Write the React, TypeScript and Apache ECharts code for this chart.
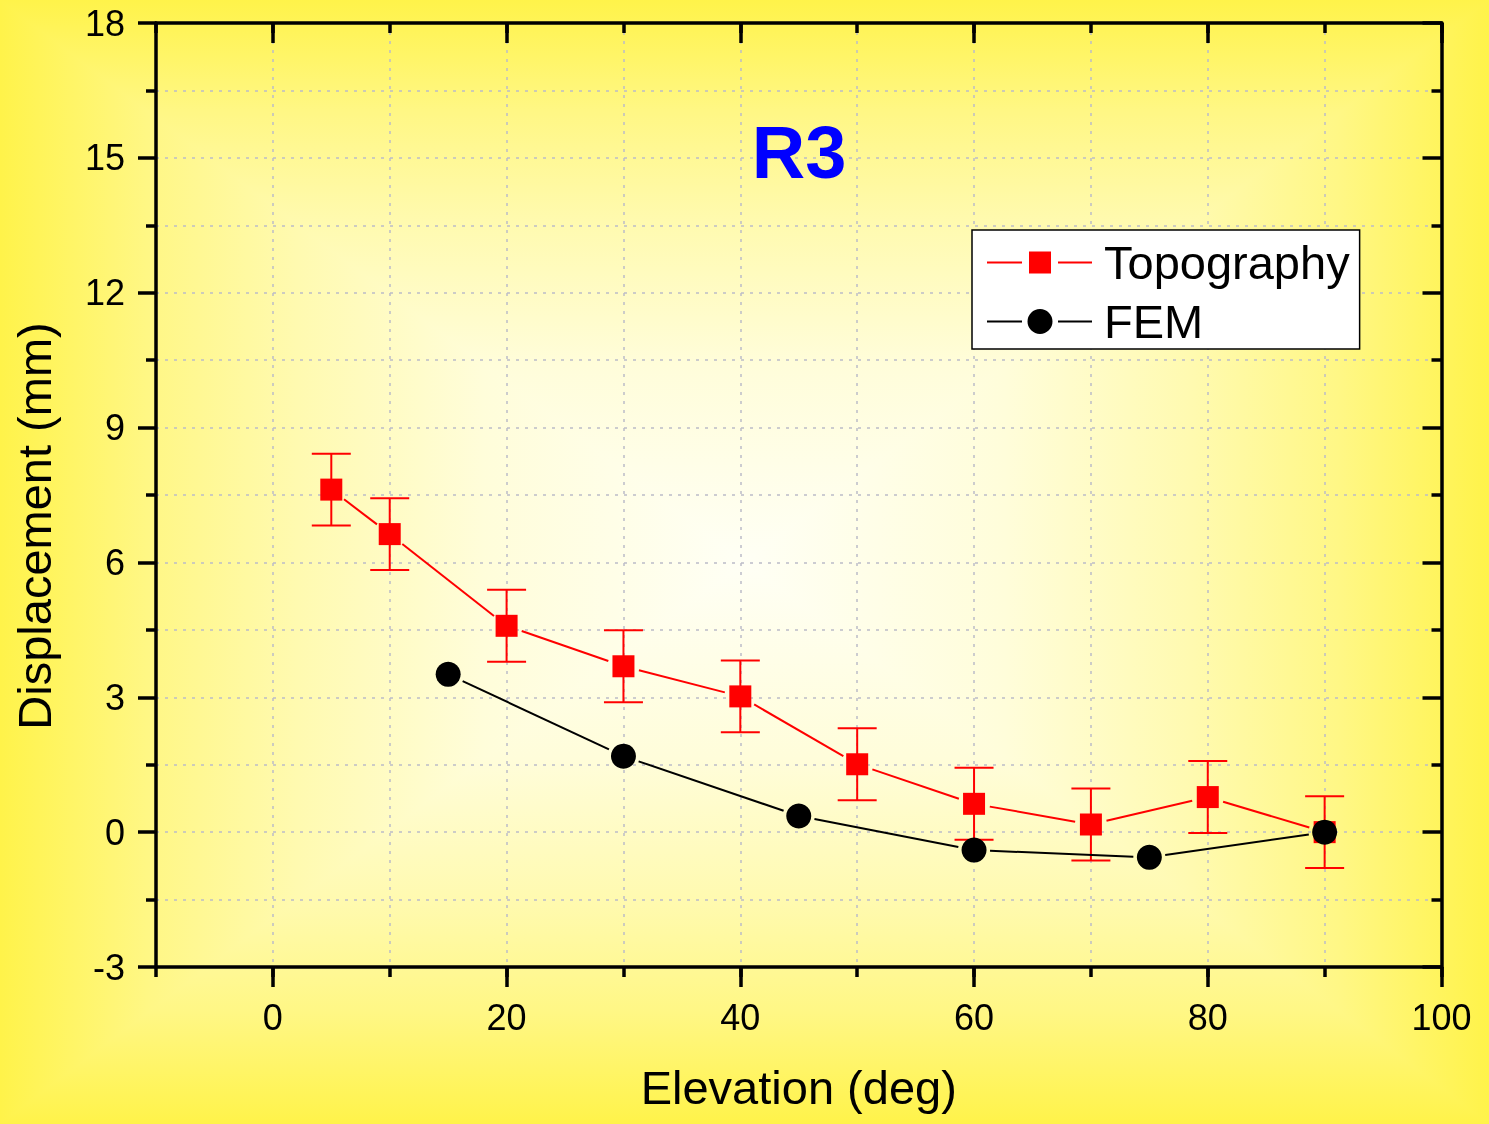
import React, { useEffect, useRef } from "react";
import * as echarts from "echarts";

// ---- data ----
const topoX = [5, 10, 20, 30, 40, 50, 60, 70, 80, 90];
const topoY = [7.62, 6.63, 4.59, 3.69, 3.02, 1.51, 0.63, 0.17, 0.78, 0.0];
const topoErr = [0.8, 0.8, 0.8, 0.8, 0.8, 0.8, 0.8, 0.8, 0.8, 0.8];
const femX = [15, 30, 45, 60, 75, 90];
const femY = [3.51, 1.69, 0.36, -0.4, -0.56, 0.0];
const xMajorTicks = [0, 20, 40, 60, 80, 100];
const seriesNames = ["Topography", "FEM"];
const titleText = "R3";
const xAxisName = "Elevation (deg)";
const yAxisName = "Displacement (mm)";

const FONT = "'Liberation Sans', Arial, sans-serif";
const RED = "#ff0000";
const BLACK = "#000000";
const GRID_COLOR = "#bcbcc8";

// legend icons: line – marker – line, with small gaps (Origin style)
const ICON_SQUARE = "path://M0 14H35V16H0Z M42 4H64V26H42Z M71 14H105V16H71Z";
const ICON_CIRCLE =
  "path://M0 14H35V16H0Z M40.5 15A12.5 12.5 0 1 0 65.5 15A12.5 12.5 0 1 0 40.5 15Z M71 14H105V16H71Z";

function pairs(xs: number[], ys: number[]) {
  return xs.map((x, i) => [x, ys[i]]);
}
function segments(xs: number[], ys: number[]) {
  const out: number[][] = [];
  for (let i = 0; i < xs.length - 1; i++) out.push([xs[i], ys[i], xs[i + 1], ys[i + 1]]);
  return out;
}

function segmentRenderer(color: string, gap: number) {
  return (params: any, api: any) => {
    const p1 = api.coord([api.value(0), api.value(1)]);
    const p2 = api.coord([api.value(2), api.value(3)]);
    const dx = p2[0] - p1[0];
    const dy = p2[1] - p1[1];
    const len = Math.hypot(dx, dy);
    if (len <= 2 * gap) return null;
    const ux = dx / len;
    const uy = dy / len;
    return {
      type: "line",
      silent: true,
      shape: { x1: p1[0] + ux * gap, y1: p1[1] + uy * gap, x2: p2[0] - ux * gap, y2: p2[1] - uy * gap },
      style: { stroke: color, lineWidth: 2 },
    };
  };
}

function errorBarRenderer(params: any, api: any) {
  const x = api.value(0);
  const pl = api.coord([x, api.value(1)]);
  const ph = api.coord([x, api.value(2)]);
  const hw = 19.5;
  const style = { stroke: RED, lineWidth: 2 };
  return {
    type: "group",
    silent: true,
    children: [
      { type: "line", shape: { x1: pl[0], y1: pl[1], x2: ph[0], y2: ph[1] }, style },
      { type: "line", shape: { x1: ph[0] - hw, y1: ph[1], x2: ph[0] + hw, y2: ph[1] }, style },
      { type: "line", shape: { x1: pl[0] - hw, y1: pl[1], x2: pl[0] + hw, y2: pl[1] }, style },
    ],
  };
}

const gridLine = { show: true, lineStyle: { color: GRID_COLOR, width: 1.5, type: [3, 6] } };
const axisLineStyle = { show: true, onZero: false, lineStyle: { color: BLACK, width: 3.5 } };
const hiddenLine = { show: false, onZero: false };

export default function App() {
  const ref = useRef<HTMLDivElement>(null);

  useEffect(() => {
    if (!ref.current) return;
    const chart = echarts.init(ref.current, undefined, { renderer: "svg" });

    const errData = topoX.map((x, i) => [x, topoY[i] - topoErr[i], topoY[i] + topoErr[i]]);

    const option: any = {
      animation: false,
      backgroundColor: "transparent",
      textStyle: { fontFamily: FONT },
      grid: { left: 156, right: 47.5, top: 23, bottom: 157, containLabel: false },
      graphic: [
        {
          type: "text",
          x: 799,
          y: 152,
          style: {
            text: titleText,
            fill: "#0000ff",
            font: `bold 74px ${FONT}`,
            textAlign: "center",
            textVerticalAlign: "middle",
          },
          z: 10,
        },
        {
          type: "text",
          x: 34,
          y: 526,
          rotation: Math.PI / 2,
          style: {
            text: yAxisName,
            fill: BLACK,
            font: `47px ${FONT}`,
            textAlign: "center",
            textVerticalAlign: "middle",
          },
          z: 10,
        },
      ],
      legend: {
        left: 972,
        top: 230,
        orient: "vertical",
        backgroundColor: "#ffffff",
        borderColor: BLACK,
        borderWidth: 1.5,
        borderRadius: 0,
        padding: [9, 10, 4, 15],
        itemGap: 12,
        itemWidth: 105,
        itemHeight: 30,
        symbolKeepAspect: true,
        textStyle: { fontSize: 47, color: BLACK, fontFamily: FONT, padding: [0, 0, 0, 7] },
        data: [
          { name: seriesNames[0], icon: ICON_SQUARE, itemStyle: { color: RED, borderWidth: 0 } },
          { name: seriesNames[1], icon: ICON_CIRCLE, itemStyle: { color: BLACK, borderWidth: 0 } },
        ],
      },
      xAxis: [
        {
          type: "value",
          position: "bottom",
          min: -10,
          max: 100,
          interval: 10,
          axisLine: axisLineStyle,
          axisTick: { show: true, inside: false, length: 10, lineStyle: { color: BLACK, width: 3.5 } },
          axisLabel: {
            show: true,
            margin: 32,
            fontSize: 36,
            color: BLACK,
            fontFamily: FONT,
            formatter: (v: number) => (v % 20 === 0 ? String(v) : ""),
          },
          splitLine: gridLine,
          name: xAxisName,
          nameLocation: "middle",
          nameGap: 97,
          nameTextStyle: { fontSize: 47, color: BLACK, fontFamily: FONT },
        },
        {
          type: "value",
          position: "bottom",
          min: -10,
          max: 100,
          axisLine: hiddenLine,
          axisTick: { show: true, inside: false, length: 20, customValues: xMajorTicks, lineStyle: { color: BLACK, width: 3.5 } },
          axisLabel: { show: false },
          splitLine: { show: false },
        },
        {
          type: "value",
          position: "top",
          min: -10,
          max: 100,
          interval: 10,
          axisLine: axisLineStyle,
          axisTick: { show: true, inside: true, length: 10, lineStyle: { color: BLACK, width: 3.5 } },
          axisLabel: { show: false },
          splitLine: { show: false },
        },
        {
          type: "value",
          position: "top",
          min: -10,
          max: 100,
          axisLine: hiddenLine,
          axisTick: { show: true, inside: true, length: 20, customValues: xMajorTicks, lineStyle: { color: BLACK, width: 3.5 } },
          axisLabel: { show: false },
          splitLine: { show: false },
        },
      ],
      yAxis: [
        {
          type: "value",
          position: "left",
          min: -3,
          max: 18,
          interval: 3,
          axisLine: axisLineStyle,
          axisTick: { show: true, inside: false, length: 18, lineStyle: { color: BLACK, width: 3.5 } },
          minorTick: { show: true, splitNumber: 2, length: 10, lineStyle: { color: BLACK, width: 3.5 } },
          axisLabel: { show: true, margin: 31, fontSize: 36, color: BLACK, fontFamily: FONT },
          splitLine: gridLine,
          minorSplitLine: gridLine,
        },
        {
          type: "value",
          position: "right",
          min: -3,
          max: 18,
          interval: 3,
          axisLine: axisLineStyle,
          axisTick: { show: true, inside: true, length: 19, lineStyle: { color: BLACK, width: 3.5 } },
          minorTick: { show: true, splitNumber: 2, length: 10, lineStyle: { color: BLACK, width: 3.5 } },
          axisLabel: { show: false },
          splitLine: { show: false },
        },
      ],
      series: [
        {
          type: "custom",
          name: "topoErr",
          xAxisIndex: 0,
          yAxisIndex: 0,
          data: errData,
          renderItem: errorBarRenderer,
          z: 2,
        },
        {
          type: "custom",
          name: "topoSeg",
          xAxisIndex: 0,
          yAxisIndex: 0,
          data: segments(topoX, topoY),
          renderItem: segmentRenderer(RED, 16),
          z: 2,
        },
        {
          type: "line",
          name: seriesNames[0],
          xAxisIndex: 0,
          yAxisIndex: 0,
          data: pairs(topoX, topoY),
          symbol: "rect",
          symbolSize: 22,
          color: RED,
          itemStyle: { color: RED },
          lineStyle: { width: 0, opacity: 0 },
          z: 3,
        },
        {
          type: "custom",
          name: "femSeg",
          xAxisIndex: 0,
          yAxisIndex: 0,
          data: segments(femX, femY),
          renderItem: segmentRenderer(BLACK, 16),
          z: 4,
        },
        {
          type: "line",
          name: seriesNames[1],
          xAxisIndex: 0,
          yAxisIndex: 0,
          data: pairs(femX, femY),
          symbol: "circle",
          symbolSize: 25,
          color: BLACK,
          itemStyle: { color: BLACK },
          lineStyle: { width: 0, opacity: 0 },
          z: 5,
        },
      ],
    };

    chart.setOption(option);
    return () => chart.dispose();
  }, []);

  const h = "linear-gradient(to right, #fff34a 0%, #fff785 10%, #fffab0 20%, #fffdda 32.5%, #fffff5 50%, #fffdda 67.5%, #fffab0 80%, #fff785 90%, #fff34a 100%)";
  const v = "linear-gradient(to bottom, #fff34a 0%, #fff785 10%, #fffab0 20%, #fffdda 32.5%, #fffff5 50%, #fffdda 67.5%, #fffab0 80%, #fff785 90%, #fff34a 100%)";

  return (
    <div
      ref={ref}
      style={{
        position: "fixed",
        left: 0,
        top: 0,
        width: 1489,
        height: 1124,
        backgroundImage: `${h}, ${v}`,
        backgroundBlendMode: "darken",
      }}
    />
  );
}
